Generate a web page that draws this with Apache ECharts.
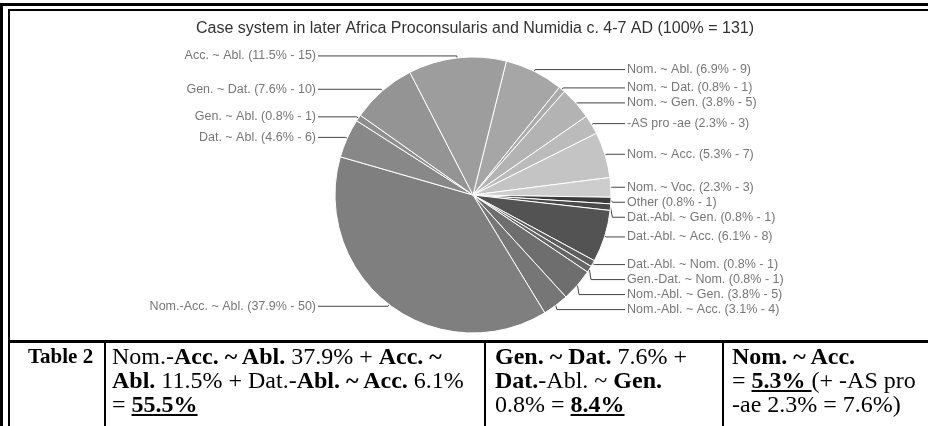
<!DOCTYPE html>
<html lang="en">
<head>
    <meta charset="utf-8" />
    <title>Case system pie</title>
    <script src="https://cdn.jsdelivr.net/npm/echarts@6/dist/echarts.min.js"></script>
    <style>
        body { margin: 0; background: #fff; width: 928px; height: 426px; overflow: hidden; position: relative; }
        #chart { position: absolute; left: 0; top: 0; width: 928px; height: 342px; }
        .ln { position: absolute; background: #000; }
        .cell { position: absolute; top: 344px; font-family: 'Liberation Serif', 'Times New Roman', serif; font-size: 24px; line-height: 24px; color: #000; white-space: nowrap; }
        .cell u { text-decoration-thickness: 2px; text-underline-offset: 2px; }
    </style>
</head>
<body>
    <div id="chart"></div>

    <!-- frame lines -->
    <div class="ln" style="left:0;top:3px;width:928px;height:3px"></div>
    <div class="ln" style="left:8px;top:9px;width:920px;height:2px"></div>
    <div class="ln" style="left:0;top:3px;width:3px;height:423px"></div>
    <div class="ln" style="left:8px;top:9px;width:2px;height:417px"></div>
    <div class="ln" style="left:8px;top:340px;width:920px;height:3px"></div>
    <div class="ln" style="left:104px;top:342px;width:2px;height:84px"></div>
    <div class="ln" style="left:484px;top:342px;width:2px;height:84px"></div>
    <div class="ln" style="left:722px;top:342px;width:2px;height:84px"></div>

    <div class="cell" style="left:28px;font-size:21px"><b>Table 2</b></div>
    <div class="cell" style="left:112px">Nom.-<b>Acc. ~ Abl.</b> 37.9% + <b>Acc. ~</b><br><b>Abl.</b> 11.5% + Dat.-<b>Abl. ~ Acc.</b> 6.1%<br>= <b><u>55.5%</u></b></div>
    <div class="cell" style="left:495px"><b>Gen. ~ Dat.</b> 7.6% +<br><b>Dat.</b>-Abl. ~ <b>Gen.</b><br>0.8% = <b><u>8.4%</u></b></div>
    <div class="cell" style="left:732px"><b>Nom. ~ Acc.</b><br>= <b><u>5.3% </u></b>(+ -AS pro<br>-ae 2.3% = 7.6%)</div>

    <script>
    // slices, clockwise from the top-right
    let names = ['Nom. ~ Abl.', 'Nom. ~ Dat.', 'Nom. ~ Gen.', '-AS pro -ae', 'Nom. ~ Acc.', 'Nom. ~ Voc.',
        'Other', 'Dat.-Abl. ~ Gen.', 'Dat.-Abl. ~ Acc.', 'Dat.-Abl. ~ Nom.', 'Gen.-Dat. ~ Nom.',
        'Nom.-Abl. ~ Gen.', 'Nom.-Abl. ~ Acc.', 'Nom.-Acc. ~ Abl.', 'Dat. ~ Abl.', 'Gen. ~ Abl.',
        'Gen. ~ Dat.', 'Acc. ~ Abl.']
    let counts = [9, 1, 5, 3, 7, 3, 1, 1, 8, 1, 1, 5, 4, 50, 6, 1, 10, 15]
    // percentages as printed on the chart (rounded by hand so they add up to 100)
    let percents = ['6.9', '0.8', '3.8', '2.3', '5.3', '2.3', '0.8', '0.8', '6.1', '0.8', '0.8',
        '3.8', '3.1', '37.9', '4.6', '0.8', '7.6', '11.5']

    let shades = ['#a6a6a6', '#ababab', '#b3b3b3', '#bbbbbb', '#c4c4c4', '#cdcdcd',
        '#3b3b3b', '#4a4a4a', '#535353', '#5d5d5d', '#666666',
        '#6e6e6e', '#767676', '#7f7f7f', '#888888', '#8e8e8e', '#949494', '#9d9d9d']

    let pieCx = 473
    let leftLineEnd = 318   // where the left-hand leader lines stop
    let rightLineEnd = 625  // where the right-hand leader lines stop

    let chart = echarts.init(document.getElementById('chart'), null, { renderer: 'canvas' })

    let pieData = names.map(function(n, i) {
        return { name: n, value: counts[i], pct: percents[i], itemStyle: { color: shades[i] } }
    })

    chart.setOption({
        animation: false,
        title: {
            text: 'Case system in later Africa Proconsularis and Numidia c. 4-7 AD (100% = 131)',
            left: 191,
            top: 16,
            textStyle: { fontFamily: 'Liberation Sans', fontSize: 16, fontWeight: 'normal', color: '#333' }
        },
        series: [{
            type: 'pie',
            center: [pieCx, 195],
            radius: 138,
            startAngle: 76,
            clockwise: true,
            left: 0, right: 0, top: 0, bottom: 0,
            data: pieData,
            itemStyle: { borderColor: '#fff', borderWidth: 1 },
            emphasis: { disabled: true },
            label: {
                formatter: function(p) {
                    return p.name + ' (' + p.data.pct + '% - ' + p.value + ')'
                },
                alignTo: 'labelLine',
                distanceToLabelLine: 2,
                color: '#777',
                fontFamily: 'Liberation Sans',
                fontSize: 12.5,
                lineHeight: 11
            },
            labelLine: {
                length: 2,
                length2: 12,
                lineStyle: { color: '#444', width: 1 }
            },
            labelLayout: function(params) {
                let pts = params.labelLinePoints
                if (!pts) return {}
                let isLeft = pts[2][0] < pieCx
                let endX = isLeft ? leftLineEnd : rightLineEnd
                let newPts = [pts[0].slice(), pts[1].slice(), [endX, pts[2][1]]]
                return {
                    x: isLeft ? endX - 2 : endX + 2,
                    align: isLeft ? 'right' : 'left',
                    labelLinePoints: newPts
                }
            }
        }]
    })
    </script>
</body>
</html>
